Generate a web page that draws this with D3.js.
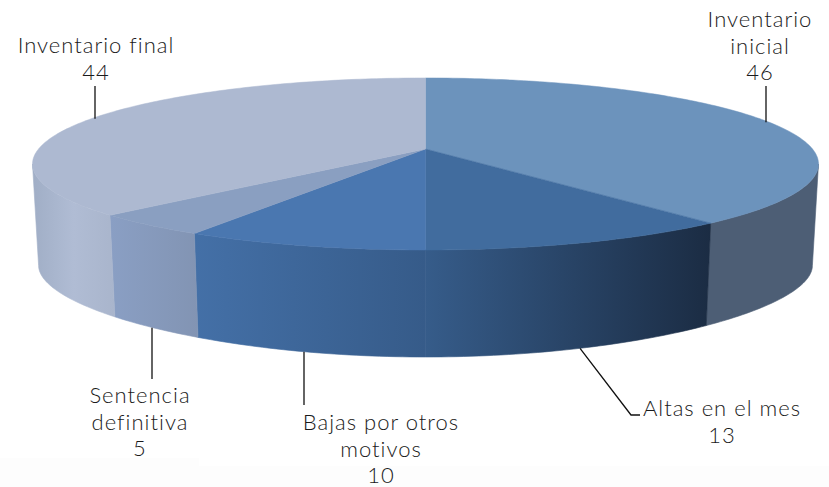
<!DOCTYPE html>
<html>
<head>
<meta charset="utf-8">
<script src="https://cdn.jsdelivr.net/npm/d3@7"></script>
<style>
  html, body { margin: 0; padding: 0; background: #fff; }
  svg { display: block; }
  text { font-family: "Lato", "Open Sans", sans-serif; font-weight: 300; font-size: 22px; fill: #1a1a1a; letter-spacing: 1px; }
</style>
</head>
<body>
<svg id="chart"></svg>
<script>
const categories = ["Inventario inicial", "Altas en el mes", "Bajas por otros motivos", "Sentencia definitiva", "Inventario final"];
const values = [46, 13, 10, 5, 44];
const labelLines = [["Inventario", "inicial"], ["Altas en el mes"], ["Bajas por otros", "motivos"], ["Sentencia", "definitiva"], ["Inventario final"]];

const topColors = ["#6c93bc", "#416c9e", "#4a77b0", "#8a9fc1", "#adb9d1"];
const wallColors = [
    ["#4d5e75", "#4d5e75"],
    ["#365c8a", "#1b2c43"],
    ["#4470a7", "#365b89"],
    ["#8a9fc4", "#8294b3"],
    ["#a0aec6", "#b0bcd4", "#a9b5cc"]
];

const width = 829, height = 487;

// tilted disc with some perspective, the lower rim has a stronger curve than the top
const top_ = { cy: 149, sx: 387, sy: 83.4, kx: -0.174, ky: -0.174 };
const bottom = { cy: 252, sx: 381, sy: 73.5, kx: -0.174, ky: -0.3 };
const cx = 425.5;
// the wall is only seen between the two widest points of the disc
const wallFrom = Math.acos(top_.kx), wallTo = 2 * Math.PI - wallFrom;

function project(angle, plane) {
    const u = Math.sin(angle), v = -Math.cos(angle);
    return [cx + plane.sx * u / (1 + plane.kx * v), plane.cy + plane.sy * v / (1 + plane.ky * v)];
}

function rim(a0, a1, plane) {
    const n = Math.ceil(Math.abs(a1 - a0) * 60);
    return d3.range(n + 1).map(i => project(a0 + (a1 - a0) * i / n, plane));
}

const svg = d3.select("#chart").attr("width", width).attr("height", height);
const line = d3.line();
const color = d3.scaleOrdinal().domain(categories).range(topColors);

const pie = d3.pie().sort(null).startAngle(0).endAngle(2 * Math.PI);
const slices = pie(values).map((d, i) => ({ ...d, name: categories[i], lines: labelLines[i] }));

// very faint off-white strips left behind at the bottom of the picture
svg.append("rect").attr("x", 0).attr("y", 458).attr("width", 199).attr("height", 29).attr("fill", "#fdfdfd");
svg.append("rect").attr("x", 199).attr("y", 466).attr("width", 630).attr("height", 21).attr("fill", "#fdfdfd");

const defs = svg.append("defs");

// side walls first, the top faces go over them
slices.forEach((d, i) => {
    const a0 = Math.max(d.startAngle, wallFrom), a1 = Math.min(d.endAngle, wallTo);
    const pts = rim(a0, a1, top_).concat(rim(a1, a0, bottom));
    const xs = pts.map(p => p[0]);
    const grad = defs.append("linearGradient")
        .attr("id", "wall" + i)
        .attr("gradientUnits", "userSpaceOnUse")
        .attr("x1", d3.min(xs)).attr("x2", d3.max(xs)).attr("y1", 0).attr("y2", 0);
    wallColors[i].forEach((c, j) => {
        grad.append("stop")
            .attr("offset", j / (wallColors[i].length - 1))
            .attr("stop-color", c);
    });

    svg.append("path")
        .attr("d", line(pts) + "Z")
        .attr("fill", `url(#wall${i})`)
        .attr("stroke", `url(#wall${i})`)   // hides the seam between walls
        .attr("stroke-width", 0.6);
});

slices.forEach(d => {
    const pts = [[cx, top_.cy]].concat(rim(d.startAngle, d.endAngle, top_));
    svg.append("path")
        .attr("d", line(pts) + "Z")
        .attr("fill", color(d.name))
        .attr("stroke", color(d.name))
        .attr("stroke-width", 0.5);
});

// label centre x, first baseline, and the leader end
const labelPos = [[760, 27], [722, 416], [381, 430], [140, 403], [96, 53]];
const leaderEnds = [[[766, 86]], [[631, 415], [640, 415]], [[304, 405]], [[152, 379]], [[95, 86]]];
const leaderPlane = [top_, bottom, bottom, bottom, top_];

slices.forEach((d, i) => {
    const mid = (d.startAngle + d.endAngle) / 2;
    const start = project(mid, leaderPlane[i]);
    const pts = [[i === 1 ? start[0] : leaderEnds[i][0][0], start[1]]].concat(leaderEnds[i]);
    svg.append("path")
        .attr("d", line(pts))
        .attr("fill", "none")
        .attr("stroke", "#111")
        .attr("stroke-width", 1.3);

    const label = svg.append("text").attr("text-anchor", "middle");
    d.lines.concat(String(d.value)).forEach((t, j) => {
        label.append("tspan")
            .attr("x", labelPos[i][0])
            .attr("y", labelPos[i][1] + j * 26.5)
            .text(t);
    });
});
</script>
</body>
</html>
